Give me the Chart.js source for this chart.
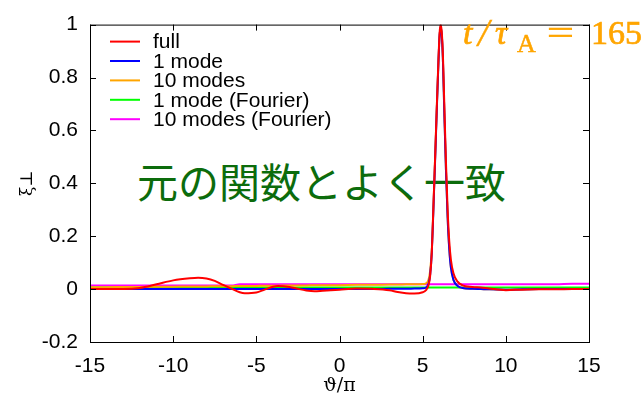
<!DOCTYPE html>
<html>
<head>
<meta charset="utf-8">
<script src="https://cdn.jsdelivr.net/npm/chart.js@4.4.0/dist/chart.umd.min.js"></script>
<style>
  html, body { margin: 0; padding: 0; background: #fff; }
  #wrap { position: relative; width: 642px; height: 400px; overflow: hidden; }
  #chart { position: absolute; left: 0; top: 0; z-index: 2; }
  .note { position: absolute; white-space: nowrap; }
  #agree { left: 137px; top: 160px; z-index: 1; font: 41px/41px "Noto Sans CJK JP"; color: #0c6c0c; }
  #time span { position: absolute; z-index: 3; white-space: nowrap; font: 34px/34px "Liberation Serif"; color: #ffa500; top: 16px; -webkit-text-stroke: 0.7px #ffa500; }
  #time .it { font-style: italic; }
  #time .sl { font-style: italic; font-size: 40px; line-height: 40px; top: 13px; -webkit-text-stroke: 0.4px #ffa500; }
  #time .sub { font-size: 26px; line-height: 26px; top: 31px; -webkit-text-stroke: 0.5px #ffa500; }
  #time .eq { transform: scaleX(1.4); transform-origin: left center; }
</style>
</head>
<body>
<div id="wrap">
  <div class="note" id="agree">元の関数とよく一致</div>
  <canvas id="chart" width="642" height="400"></canvas>
  <div id="time"><span class="it" style="left:463px">t</span><span class="sl" style="left:478px">/</span><span class="it" style="left:495px">τ</span><span class="sub" style="left:517px">A</span><span class="eq" style="left:547px">=</span><span style="left:591px">165</span></div>
</div>
<script>
// ϑ/π の位置
var theta = [-15, -14, -13, -12, -11, -10, -9, -8.5, -8, -7.5, -7, -6.5, -6, -5.7, -5, -4.5, -4, -3.7, -3, -2.5,
             -2, -1.5, -1, 0, 1, 2, 3, 3.5, 4, 4.5, 5, 5.2, 5.35, 5.45, 5.55, 5.64, 5.75, 5.84, 5.95, 6.02,
             6.08, 6.15, 6.22, 6.3, 6.4, 6.5, 6.6, 6.7, 6.85, 7.1, 7.4, 8, 8.5, 9, 10, 11, 12, 13, 14, 15];

// full
var fullVal = [0, 0, 0, 0.004, 0.018, 0.033, 0.041, 0.043, 0.040, 0.031, 0.016, 0.002, -0.012, -0.016, -0.013, -0.002, 0.009, 0.012, 0.008, 0.001,
               -0.005, -0.008, -0.006, -0.002, 0.002, 0.001, -0.004, -0.011, -0.016, -0.017, -0.012, -0.004, 0.015, 0.05, 0.14, 0.30, 0.50, 0.67, 0.87, 0.97,
               1.00, 0.97, 0.88, 0.70, 0.48, 0.30, 0.18, 0.11, 0.06, 0.028, 0.014, 0.008, 0.006, 0.002, -0.004, -0.002, -0.001, -0.001, 0, 0];

// 1 mode
var mode1Val = [0, 0, 0, 0, 0, 0, 0, 0, 0, 0, 0, 0, 0, 0, 0, 0, 0, 0, 0, 0,
                0, 0, 0, 0, 0, 0, 0.001, 0.001, 0.001, 0.002, 0.003, 0.006, 0.02, 0.055, 0.14, 0.29, 0.49, 0.66, 0.86, 0.96,
                0.99, 0.96, 0.86, 0.67, 0.45, 0.27, 0.15, 0.08, 0.035, 0.012, 0.004, 0.001, 0, -0.001, -0.002, -0.001, 0, 0, 0, 0];

// 10 modes
var mode10Val = [0.007, 0.007, 0.008, 0.008, 0.009, 0.009, 0.010, 0.010, 0.010, 0.011, 0.011, 0.011, 0.012, 0.012, 0.012, 0.013, 0.013, 0.013, 0.014, 0.014,
                 0.014, 0.015, 0.015, 0.015, 0.016, 0.016, 0.017, 0.017, 0.018, 0.018, 0.019, 0.022, 0.035, 0.07, 0.15, 0.30, 0.50, 0.67, 0.86, 0.96,
                 0.99, 0.96, 0.86, 0.67, 0.45, 0.27, 0.15, 0.08, 0.035, 0.012, 0.004, 0.001, 0, -0.001, -0.002, -0.001, 0, 0, 0, 0];

// 1 mode (Fourier)
var fourier1Val = [0.006, 0.006, 0.006, 0.006, 0.006, 0.006, 0.006, 0.006, 0.006, 0.006, 0.006, 0.006, 0.006, 0.006, 0.006, 0.006, 0.006, 0.006, 0.006, 0.006,
                   0.006, 0.006, 0.006, 0.006, 0.006, 0.006, 0.006, 0.006, 0.006, 0.006, 0.006, 0.006, 0.006, 0.006, 0.006, 0.006, 0.006, 0.006, 0.006, 0.006,
                   0.006, 0.006, 0.006, 0.006, 0.006, 0.006, 0.006, 0.006, 0.006, 0.006, 0.006, 0.006, 0.006, 0.006, 0.006, 0.006, 0.006, 0.006, 0.006, 0.006];

// 10 modes (Fourier)
var fourier10Val = [0.014, 0.014, 0.014, 0.014, 0.014, 0.014, 0.014, 0.014, 0.014, 0.014, 0.014, 0.014, 0.018, 0.018, 0.018, 0.018, 0.018, 0.018, 0.018, 0.018,
                    0.018, 0.018, 0.018, 0.018, 0.018, 0.018, 0.018, 0.018, 0.018, 0.018, 0.018, 0.018, 0.018, 0.018, 0.018, 0.018, 0.018, 0.018, 0.018, 0.018,
                    0.018, 0.018, 0.018, 0.018, 0.018, 0.018, 0.018, 0.018, 0.018, 0.018, 0.018, 0.018, 0.018, 0.018, 0.018, 0.018, 0.018, 0.018, 0.020, 0.020];

var seriesName = ['full', '1 mode', '10 modes', '1 mode (Fourier)', '10 modes (Fourier)'];
var seriesColor = ['#ff0000', '#0000ff', '#ffa500', '#00ff00', '#ff00ff'];
var seriesVal = [fullVal, mode1Val, mode10Val, fourier1Val, fourier10Val];

function toPoints(vals) {
  var pts = [];
  for (let i = 0; i < theta.length; i++) {
    pts.push({x: theta[i], y: vals[i]});
  }
  return pts;
}

var datasets = [];
for (let i = 0; i < seriesName.length; i++) {
  datasets.push({
    label: seriesName[i],
    data: toPoints(seriesVal[i]),
    borderColor: seriesColor[i],
    borderWidth: 2,
    pointRadius: 0,
    cubicInterpolationMode: 'monotone',
    fill: false
  });
}

// 目盛りラベル（-0.0 や 1.0 にならないように）
function tickLabel(value) {
  var r = Math.round(value * 10) / 10;
  if (r === 0) return '0';
  return String(r);
}

// 枠と内向きの目盛り
var frameTicks = {
  id: 'frameTicks',
  afterDraw: function(chart) {
    var ctx = chart.ctx;
    var a = chart.chartArea;
    var xs = chart.scales.x, ys = chart.scales.y;
    ctx.save();
    ctx.strokeStyle = '#000';
    ctx.lineWidth = 1;
    ctx.strokeRect(a.left + 0.5, a.top + 0.5, a.right - a.left, a.bottom - a.top);
    ctx.beginPath();
    xs.ticks.forEach(function(t) {
      var px = Math.round(xs.getPixelForValue(t.value)) + 0.5;
      ctx.moveTo(px, a.bottom); ctx.lineTo(px, a.bottom - 6);
      ctx.moveTo(px, a.top); ctx.lineTo(px, a.top + 6);
    });
    ys.ticks.forEach(function(t) {
      var py = Math.round(ys.getPixelForValue(t.value)) + 0.5;
      ctx.moveTo(a.left, py); ctx.lineTo(a.left + 6, py);
      ctx.moveTo(a.right, py); ctx.lineTo(a.right - 6, py);
    });
    ctx.stroke();
    ctx.restore();
  }
};

// 凡例（グラフ内左上）
var insideLegend = {
  id: 'insideLegend',
  afterDraw: function(chart) {
    var ctx = chart.ctx;
    var a = chart.chartArea;
    ctx.save();
    ctx.font = '21px "Liberation Sans"';
    ctx.textBaseline = 'middle';
    ctx.textAlign = 'left';
    chart.data.datasets.forEach(function(ds, i) {
      var y = a.top + 17 + i * 19.4;
      ctx.strokeStyle = ds.borderColor;
      ctx.lineWidth = 2;
      ctx.beginPath();
      ctx.moveTo(a.left + 20, y);
      ctx.lineTo(a.left + 50, y);
      ctx.stroke();
      ctx.fillStyle = '#000';
      ctx.fillText(ds.label, a.left + 63, y + 1);
    });
    ctx.restore();
  }
};

Chart.defaults.font.family = '"Liberation Sans"';
Chart.defaults.font.size = 21;
Chart.defaults.color = '#000';

var ctx = document.getElementById('chart');
var myChart = new Chart(ctx, {
  type: 'line',
  data: { datasets: datasets },
  plugins: [frameTicks, insideLegend],
  options: {
    responsive: false,
    animation: false,
    devicePixelRatio: 1,
    layout: { padding: { left: 0, right: 53, top: 7, bottom: 0 } },
    plugins: { legend: { display: false }, tooltip: { enabled: false } },
    scales: {
      x: {
        type: 'linear',
        min: -15, max: 15,
        ticks: { stepSize: 5, padding: 12, maxRotation: 0, callback: tickLabel },
        grid: { display: false, drawTicks: false },
        border: { display: false },
        title: { display: true, text: 'ϑ/π', font: { family: '"DejaVu Serif"', size: 19 }, padding: { top: 0, bottom: 3 } },
        afterFit: function(scale) { scale.height = 58; }
      },
      y: {
        min: -0.2, max: 1,
        ticks: { stepSize: 0.2, padding: 12, callback: tickLabel },
        grid: { display: false, drawTicks: false },
        border: { display: false },
        title: { display: true, text: 'ξ⊥', font: { family: '"DejaVu Serif"', size: 17 }, padding: { top: 17, bottom: 0 } },
        afterFit: function(scale) { scale.width = 90; }
      }
    }
  }
});
</script>
</body>
</html>
